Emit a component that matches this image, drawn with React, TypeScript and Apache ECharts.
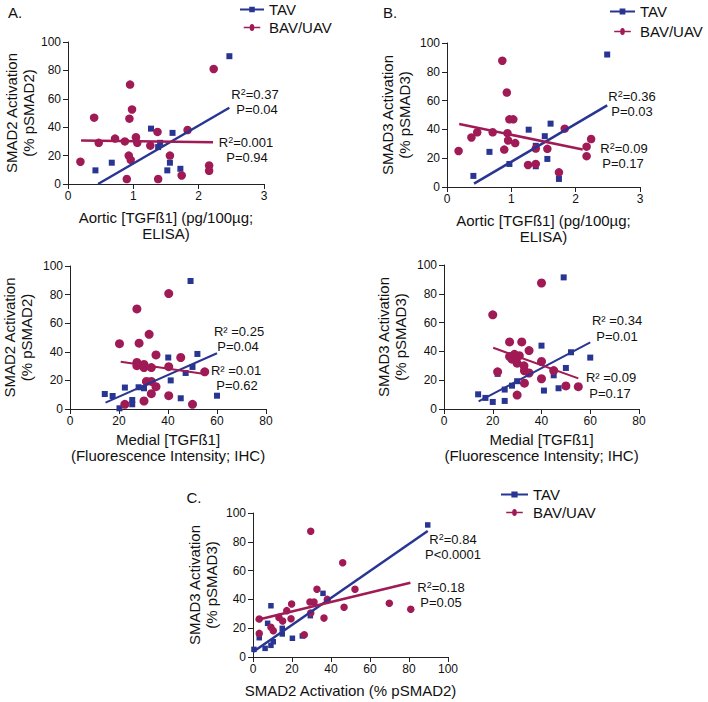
import React, { useEffect, useRef } from 'react';
import * as echarts from 'echarts';

const BLUE = '#283592';
const RED = '#a01a55';
const FONT = 'Liberation Sans, Arial, Helvetica, sans-serif';

// Panel A (top): Aortic TGFb1 vs SMAD2
const aTopTavX = [0.42, 0.67, 1.27, 1.38, 1.41, 1.6, 1.56, 1.52, 1.72, 2.47];
const aTopTavY = [9.6, 15, 39, 26, 29, 36, 15, 9.6, 10.7, 90];
const aTopBavX = [0.19, 0.4, 0.47, 0.72, 0.87, 0.9, 0.95, 0.94, 0.98, 0.93, 0.96, 1.04, 1.06, 1.26, 1.37, 1.38, 1.56, 1.74, 1.83, 2.16, 2.16, 2.23];
const aTopBavY = [15.7, 46.7, 29, 32, 30, 3.5, 70, 46, 52.5, 20, 17, 33, 29, 27, 36.7, 3.5, 20, 6, 38, 13, 9.3, 81];
const aTopTavFit = [[0.46, 0], [2.47, 53.7]];
const aTopBavFit = [[0.2, 30.6], [2.22, 29.4]];

// Panel B (top): Aortic TGFb1 vs SMAD3
const bTopTavX = [0.41, 0.66, 0.97, 1.27, 1.38, 1.38, 1.52, 1.56, 1.61, 1.74, 2.49];
const bTopTavY = [7.7, 24.4, 16, 39.8, 14.4, 28.6, 35.3, 19.5, 44, 5.6, 92];
const bTopBavX = [0.18, 0.38, 0.47, 0.71, 0.86, 0.89, 0.93, 0.94, 0.95, 0.97, 1.03, 1.06, 1.26, 1.38, 1.38, 1.56, 1.74, 1.83, 2.17, 2.17, 2.24];
const bTopBavY = [25, 34.4, 38, 38, 87.7, 26, 65.6, 37.4, 32.3, 47, 47, 30.5, 15.3, 26.7, 16, 26.5, 10.2, 40.5, 28, 21.4, 33.3];
const bTopTavFit = [[0.42, 2.3], [2.49, 56.7]];
const bTopBavFit = [[0.19, 43.7], [2.11, 26]];

// Panel A (bottom): Medial TGFb1 vs SMAD2
const aBotTavX = [14.2, 17.4, 20.2, 22.4, 25.4, 25.4, 28, 30.2, 40.1, 41.1, 45.2, 47.2, 49.2, 50, 52, 60];
const aBotTavY = [10.5, 9.1, 0.5, 15, 6.3, 3.3, 15.2, 14.5, 36, 20, 7.5, 25.2, 89.5, 29.4, 38.5, 9.3];
const aBotBavX = [20.2, 22.4, 27.3, 27.3, 27.3, 28.2, 30.2, 30.2, 30.2, 31.2, 32.3, 33.2, 33.2, 33.2, 35.1, 35.1, 40.3, 40.3, 40.3, 45.2, 50, 55];
const aBotBavY = [45.7, 3.3, 70, 32.6, 30.3, 46, 31.2, 29, 5.6, 19.3, 52.2, 29, 10.7, 19.3, 37.8, 15.6, 80.7, 29.6, 9.3, 36, 3.3, 26];
const aBotTavFit = [[14.5, 4.4], [60, 39]];
const aBotBavFit = [[20.7, 33], [55, 24.5]];

// Panel B (bottom): Medial TGFb1 vs SMAD3
const bBotTavX = [14, 17, 20, 22, 24.9, 24.9, 27.9, 30, 40, 41, 45, 47, 50, 49.1, 52.1, 60];
const bBotTavY = [10.2, 7.7, 4.9, 24.4, 13.5, 5.6, 16.2, 19.3, 44, 12.8, 23.4, 14.4, 28.5, 91.4, 39.4, 35.7];
const bBotBavX = [20, 22, 26.9, 26.9, 27.9, 28.9, 30, 30, 30.9, 31.9, 32.8, 33, 33, 34.9, 34.9, 40, 40, 40, 45, 50, 55.1];
const bBotBavY = [65.4, 25.8, 46.6, 36.4, 34.6, 38, 31.8, 9.7, 37, 46.6, 30, 26.5, 17.9, 25, 40.6, 87.5, 33, 21, 26.7, 16, 15.5];
const bBotTavFit = [[14.2, 5.3], [60, 46.2]];
const bBotBavFit = [[20.2, 42.5], [55.1, 21.3]];

// Panel C: SMAD2 vs SMAD3
const cTavX = [0.5, 3.2, 6.2, 9.2, 10.4, 9.2, 7.5, 15, 15, 20.2, 25.3, 29.4, 35.9, 89.6];
const cTavY = [5.3, 13.4, 6, 8.1, 10.6, 35.6, 23.4, 19.9, 16, 13, 14.6, 28.7, 44.2, 91.7];
const cBavX = [3.2, 3.2, 9.2, 10.4, 13.3, 15.2, 17.3, 19.5, 19.8, 26.3, 29.2, 31.3, 29.6, 32.8, 36.4, 38.1, 46, 46.7, 52.3, 29.6, 69.9, 80.9];
const cBavY = [26.4, 16.4, 20.6, 18.3, 27.5, 25, 32.2, 26.6, 36.8, 15.5, 38.2, 38.2, 30.6, 47, 27, 40, 65.5, 34.5, 47, 87.3, 37.3, 33.1];
const cTavFit = [[0, 3.5], [89.6, 87.5]];
const cBavFit = [[1.4, 25.5], [80.7, 51.6]];

const seriesNames = ['TAV', 'BAV/UAV'];
const aortic = { max: 3, interval: 1 };
const medial = { max: 80, interval: 20 };
const smad = { max: 100, interval: 20 };

const zip = (xs: number[], ys: number[]) => xs.map((x, i) => [x, ys[i]]);

const SQ_ICON = 'path://M0,2 H10 V0 H16 V2 H26 V4 H16 V6 H10 V4 H0 Z';
const CI_ICON = 'path://M0,2.5 H9.646 A3.5,3.5 0 1 1 16.354,2.5 H26 V4.5 H16.354 A3.5,3.5 0 1 1 9.646,4.5 H0 Z';

function xAxis(gridIndex: number, range: { max: number; interval: number }, name: string, nameGap: number) {
  return {
    type: 'value', gridIndex, min: 0, max: range.max, interval: range.interval,
    name, nameLocation: 'middle', nameGap,
    nameTextStyle: { fontSize: 15, lineHeight: 16, color: '#111', fontFamily: FONT },
    axisLine: { show: true, lineStyle: { color: '#222', width: 1 } },
    axisTick: { show: true, length: 5, lineStyle: { color: '#222' } },
    axisLabel: { fontSize: 12, color: '#111', fontFamily: FONT, margin: 6 },
    splitLine: { show: false },
  };
}

function yAxis(gridIndex: number, name: string, nameGap: number) {
  return {
    type: 'value', gridIndex, min: 0, max: smad.max, interval: smad.interval,
    name, nameLocation: 'middle', nameGap,
    nameTextStyle: { fontSize: 15, lineHeight: 17, color: '#111', fontFamily: FONT },
    axisLine: { show: true, lineStyle: { color: '#222', width: 1 } },
    axisTick: { show: true, length: 5, lineStyle: { color: '#222' } },
    axisLabel: { fontSize: 12, color: '#111', fontFamily: FONT, margin: 7 },
    splitLine: { show: false },
  };
}

function panelSeries(idx: number, tav: number[][], bav: number[][], tavFit: number[][], bavFit: number[][], sq: number, ci: number, lw: number) {
  return [
    { type: 'scatter', name: seriesNames[0], xAxisIndex: idx, yAxisIndex: idx, data: tav, symbol: 'rect', symbolSize: sq, itemStyle: { color: BLUE, opacity: 1 }, z: 2 },
    { type: 'scatter', name: seriesNames[1], xAxisIndex: idx, yAxisIndex: idx, data: bav, symbol: 'circle', symbolSize: ci, itemStyle: { color: RED, opacity: 1 }, z: 2 },
    { type: 'line', name: 'TAV fit', xAxisIndex: idx, yAxisIndex: idx, data: tavFit, showSymbol: false, lineStyle: { color: BLUE, width: lw }, z: 3 },
    { type: 'line', name: 'BAV/UAV fit', xAxisIndex: idx, yAxisIndex: idx, data: bavFit, showSymbol: false, lineStyle: { color: RED, width: lw }, z: 3 },
  ];
}

function legend(left: number, top: number, gap: number, itemWidth: number) {
  return {
    left, top, orient: 'vertical', itemWidth, itemHeight: 7, itemGap: gap, padding: 0,
    textStyle: { fontSize: 15, lineHeight: 17, color: '#111', fontFamily: FONT },
    data: [{ name: seriesNames[0], icon: SQ_ICON }, { name: seriesNames[1], icon: CI_ICON }],
    selectedMode: false,
  };
}

function supText(x: number, y: number, value: string) {
  return {
    type: 'text', x, y,
    style: {
      text: '{r|R}{s|2}{r|' + value + '}',
      align: 'center', verticalAlign: 'middle',
      rich: {
        r: { fontSize: 13, fontFamily: FONT, fill: '#111', lineHeight: 13, verticalAlign: 'bottom' },
        s: { fontSize: 9, fontFamily: FONT, fill: '#111', lineHeight: 9, verticalAlign: 'top' },
      },
    },
  };
}

function plainText(x: number, y: number, text: string, size = 13) {
  return {
    type: 'text', x, y,
    style: { text, align: 'center', verticalAlign: 'middle', font: `${size}px ${FONT}`, lineHeight: size, fill: '#111' },
  };
}

export default function App() {
  const ref = useRef<HTMLDivElement>(null);
  useEffect(() => {
    if (!ref.current) return;
    const chart = echarts.init(ref.current, undefined, { renderer: 'svg' });
    chart.setOption({
      animation: false,
      backgroundColor: '#fff',
      textStyle: { fontFamily: FONT },
      grid: [
        { left: 68, top: 42, width: 196, height: 142 },
        { left: 447, top: 43, width: 193, height: 144 },
        { left: 69, top: 266, width: 197, height: 143 },
        { left: 444, top: 265, width: 195, height: 144 },
        { left: 253, top: 513, width: 195, height: 144 },
      ],
      xAxis: [
        xAxis(0, aortic, 'Aortic [TGFß1] (pg/100µg;\nELISA)', 25),
        xAxis(1, aortic, 'Aortic [TGFß1] (pg/100µg;\nELISA)', 25),
        xAxis(2, medial, 'Medial [TGFß1]\n(Fluorescence Intensity; IHC)', 22),
        xAxis(3, medial, 'Medial [TGFß1]\n(Fluorescence Intensity; IHC)', 22),
        xAxis(4, smad, 'SMAD2 Activation (% pSMAD2)', 25),
      ],
      yAxis: [
        yAxis(0, 'SMAD2 Activation\n(% pSMAD2)', 31),
        yAxis(1, 'SMAD3 Activation\n(% pSMAD3)', 34),
        yAxis(2, 'SMAD2 Activation\n(% pSMAD2)', 35),
        yAxis(3, 'SMAD3 Activation\n(% pSMAD3)', 35),
        yAxis(4, 'SMAD3 Activation\n(% pSMAD3)', 33),
      ],
      legend: [
        legend(240, 1, 1, 24),
        legend(610, 3, 3, 25),
        legend(501, 486, 1, 27),
      ],
      series: [
        ...panelSeries(0, zip(aTopTavX, aTopTavY), zip(aTopBavX, aTopBavY), aTopTavFit, aTopBavFit, 6, 8.5, 2.5),
        ...panelSeries(1, zip(bTopTavX, bTopTavY), zip(bTopBavX, bTopBavY), bTopTavFit, bTopBavFit, 6, 8.5, 2.5),
        ...panelSeries(2, zip(aBotTavX, aBotTavY), zip(aBotBavX, aBotBavY), aBotTavFit, aBotBavFit, 6, 9, 2),
        ...panelSeries(3, zip(bBotTavX, bBotTavY), zip(bBotBavX, bBotBavY), bBotTavFit, bBotBavFit, 6, 9, 2),
        ...panelSeries(4, zip(cTavX, cTavY), zip(cBavX, cBavY), cTavFit, cBavFit, 5.5, 7.5, 2.5),
      ],
      graphic: [
        plainText(15, 12, 'A.', 15),
        plainText(390, 12, 'B.', 15),
        plainText(194, 497, 'C.', 15),
        supText(255, 94, '=0.37'), plainText(257, 109, 'P=0.04'),
        supText(246, 142, '=0.001'), plainText(247, 157, 'P=0.94'),
        supText(632, 96, '=0.36'), plainText(632, 111, 'P=0.03'),
        supText(624, 148, '=0.09'), plainText(623, 163, 'P=0.17'),
        plainText(239, 331, 'R² =0.25'), plainText(238, 346, 'P=0.04'),
        plainText(236, 370, 'R² =0.01'), plainText(237, 385, 'P=0.62'),
        plainText(617, 320, 'R² =0.34'), plainText(617, 336, 'P=0.01'),
        plainText(611, 377, 'R² =0.09'), plainText(610, 393, 'P=0.17'),
        supText(453, 539, '=0.84'), plainText(453, 554, 'P<0.0001'),
        supText(441, 587, '=0.18'), plainText(441, 602, 'P=0.05'),
      ],
    });
    return () => chart.dispose();
  }, []);
  return <div ref={ref} style={{ position: 'fixed', left: 0, top: 0, width: 708, height: 702, background: '#fff' }} />;
}
